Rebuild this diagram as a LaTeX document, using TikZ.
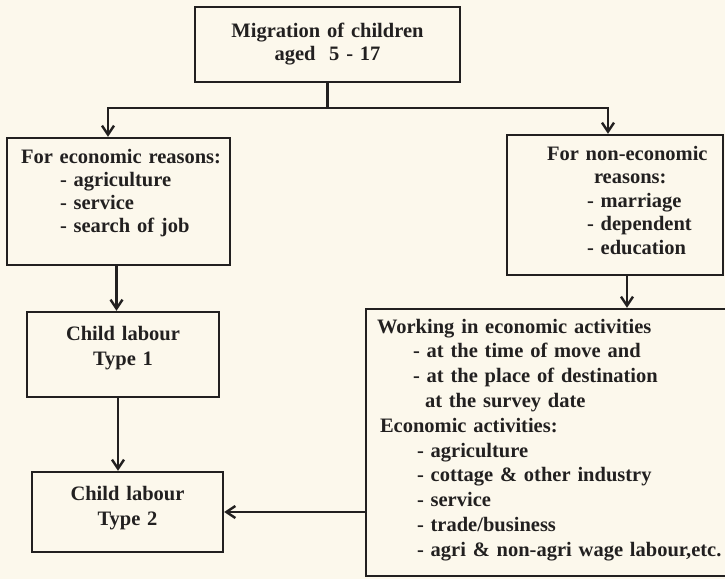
\documentclass[tikz,border=0pt]{standalone}
\usepackage{fontspec}
\setmainfont{Liberation Serif}
\usetikzlibrary{arrows.meta}
\definecolor{paper}{RGB}{252,248,236}
\definecolor{ink}{RGB}{34,32,32}

\begin{document}
\begin{tikzpicture}[x=1pt, y=-1pt]
	\tikzstyle{box} = [draw=ink, line width=2.4pt, inner xsep=0pt, inner ysep=0pt, text=ink, align=left, font=\fontsize{20.5}{23}\selectfont\bfseries]
	\tikzstyle{arr} = [draw=ink, line width=2.4pt, -{Straight Barb[length=9pt, width=12pt]}]
	\useasboundingbox (0,0) rectangle (725,579);
	\clip (0,0) rectangle (725,579);
	\fill [paper] (0,0) rectangle (725,579);
	\node [box, align=center, text width=265pt, minimum width=265pt, text height=30pt, text depth=45pt] (mig) at (327.5,44.5) {Migration of children\\aged~~5 - 17};
	\node [box, text width=223pt, minimum width=223pt, text height=25pt, text depth=102pt] (eco) at (118.5,201.5) {\hspace*{14pt}For economic reasons:\\\hspace*{53pt}- agriculture\\\hspace*{53pt}- service\\\hspace*{53pt}- search of job};
	\node [box, text width=216pt, minimum width=216pt, text height=25pt, text depth=115pt, font=\fontsize{20.5}{23.5}\selectfont\bfseries] (noneco) at (615,205) {\hspace*{40pt}For non-economic\\\hspace*{87pt}reasons:\\\hspace*{80pt}- marriage\\\hspace*{80pt}- dependent\\\hspace*{80pt}- education};
	\node [box, align=center, text width=192pt, minimum width=192pt, text height=28pt, text depth=57pt, font=\fontsize{20.5}{25}\selectfont\bfseries] (type1) at (123,354.5) {Child labour\\Type 1};
	\node [box, align=center, text width=191pt, minimum width=191pt, text height=28pt, text depth=52pt, font=\fontsize{20.5}{25}\selectfont\bfseries] (type2) at (127.5,512) {Child labour\\Type 2};
	\node [box, text width=379pt, minimum width=379pt, text height=24pt, text depth=243pt, font=\fontsize{20.5}{24.8}\selectfont\bfseries] (work) at (555.5,442.5) {\hspace*{11pt}Working in economic activities\\\hspace*{47pt}- at the time of move and\\\hspace*{47pt}- at the place of destination\\\hspace*{59pt}at the survey date\\\hspace*{14pt}Economic activities:\\\hspace*{51pt}- agriculture\\\hspace*{51pt}- cottage \& other industry\\\hspace*{51pt}- service\\\hspace*{51pt}- trade/business\\\hspace*{51pt}- agri \& non-agri wage labour,etc.};
	\coordinate (split) at (327.5,108);
	\draw [draw=ink, line width=2.4pt] (mig.south) -- (split);
	\draw [arr] (split) -| ([xshift=-10.5pt]eco.north);
	\draw [arr] (split) -| ([xshift=-7pt]noneco.north);
	\draw [arr] ([xshift=-2pt]eco.south) -- ([xshift=-2pt]eco.south |- type1.north);
	\draw [arr] ([xshift=-5pt]type1.south) -- ([xshift=-5pt]type1.south |- type2.north);
	\draw [arr] ([xshift=12pt]noneco.south) -- ([xshift=12pt]noneco.south |- work.north);
	\draw [arr] (work.west |- type2.east) -- (type2.east);
\end{tikzpicture}
\end{document}
